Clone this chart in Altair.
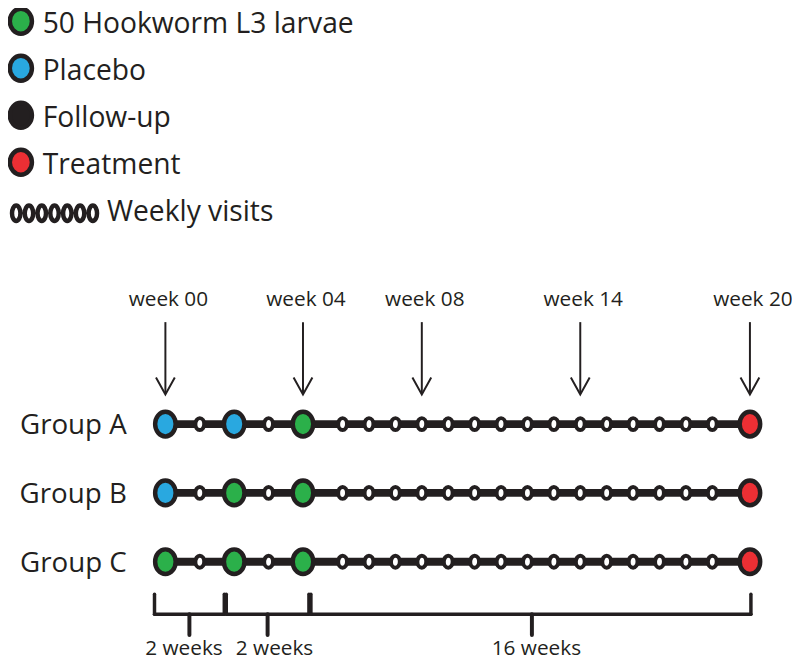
import altair as alt
import pandas as pd

# ---------------- data ----------------
legend_labels = ["50 Hookworm L3 larvae", "Placebo", "Follow-up", "Treatment", "Weekly visits"]
visit_types = ["50 Hookworm L3 larvae", "Placebo", "Follow-up", "Treatment"]
visit_colors = ["#2bb04a", "#29a8e0", "#231f20", "#ec2f34"]

groups = ["Group A", "Group B", "Group C"]
dose_weeks = [0, 2, 4]
group_a_doses = ["Placebo", "Placebo", "50 Hookworm L3 larvae"]
group_b_doses = ["Placebo", "50 Hookworm L3 larvae", "50 Hookworm L3 larvae"]
group_c_doses = ["50 Hookworm L3 larvae", "50 Hookworm L3 larvae", "50 Hookworm L3 larvae"]
weekly_visit_weeks = [1, 3, 5, 6, 7, 8, 9, 10, 11, 12, 13, 14, 15, 16, 17, 18, 19]
treatment_week = 20
study_start_week = 0
study_end_week = 20

arrow_weeks = [0, 4, 8, 14, 20]
arrow_labels = ["week 00", "week 04", "week 08", "week 14", "week 20"]

bracket_start = [0, 2, 4]
bracket_end = [2, 4, 20]
bracket_labels = ["2 weeks", "2 weeks", "16 weeks"]

# ---------------- tables ----------------
group_doses = [group_a_doses, group_b_doses, group_c_doses]
big_rows = []
for g, doses in zip(groups, group_doses):
    for w, t in zip(dose_weeks, doses):
        big_rows.append({"group": g, "week": w, "type": t})
    big_rows.append({"group": g, "week": treatment_week, "type": "Treatment"})
df_big = pd.DataFrame(big_rows)
df_weekly = pd.DataFrame([{"group": g, "week": w} for g in groups for w in weekly_visit_weeks])
df_lines = pd.DataFrame({"group": groups, "start": [study_start_week] * 3, "end": [study_end_week] * 3})
df_arrows = pd.DataFrame({"week": arrow_weeks, "label": arrow_labels})
df_brackets = pd.DataFrame({"idx": [0, 1, 2], "start": bracket_start, "end": bracket_end, "label": bracket_labels})
df_legend = pd.DataFrame({"label": legend_labels})

# ---------------- styles ----------------
INK = "#231f20"
FONT = "Open Sans"
big_shape = "M-1,0A1,1.2 0 1,0 1,0A1,1.2 0 1,0 -1,0Z"
small_shape = "M-1,0A1,1.35 0 1,0 1,0A1,1.35 0 1,0 -1,0Z"
legend_shape = "M-1,0A1,1.13 0 1,0 1,0A1,1.13 0 1,0 -1,0Z"
chain_shape = ""
for i in range(7):
    cx = (i - 3) * 12.9
    chain_shape += f"M{cx - 4.25:.2f},0A4.25,7.75 0 1,0 {cx + 4.25:.2f},0A4.25,7.75 0 1,0 {cx - 4.25:.2f},0Z"
arrow_shape = "M-1,-1.8L0,0L1,-1.8"
# hand-drawn look of the braces: (start nudge, end nudge, label nudge) in px
bracket_nudges = [(-11, -10, -16), (-8, 6, 6), (8, 1, 9)]

color_scale = alt.Scale(domain=visit_types, range=visit_colors)
x_scale = alt.Scale(domain=[0, 4, 5, 19, 20], range=[159, 298, 338, 711.5, 749.5], zero=False, nice=False)
y_group = alt.Y("group:N", scale=alt.Scale(type="point", domain=groups, range=[417, 556], padding=0), axis=None)
y_legend = alt.Y("label:N", scale=alt.Scale(type="point", domain=legend_labels, range=[10, 200], padding=0), axis=None)

# ---------------- legend ----------------
leg_base = alt.Chart(df_legend)
leg_points = leg_base.transform_filter(alt.datum.label != "Weekly visits").mark_point(
    shape=legend_shape, size=500, filled=True, stroke=INK, strokeWidth=4.5, opacity=1
).encode(x=alt.value(13), y=y_legend, fill=alt.Fill("label:N", scale=color_scale, legend=None))
leg_text = leg_base.transform_filter(alt.datum.label != "Weekly visits").mark_text(
    align="left", baseline="alphabetic", dy=12, fontSize=28.5, font=FONT, color=INK
).encode(x=alt.value(35), y=y_legend, text="label:N")
leg_chain = leg_base.transform_filter(alt.datum.label == "Weekly visits").mark_point(
    shape=chain_shape, size=4, filled=True, fill="white", stroke=INK, strokeWidth=4.5, opacity=1, yOffset=4
).encode(x=alt.value(47), y=y_legend)
leg_chain_text = leg_base.transform_filter(alt.datum.label == "Weekly visits").mark_text(
    align="left", baseline="alphabetic", dy=12, fontSize=28.5, font=FONT, color=INK
).encode(x=alt.value(100), y=y_legend, text="label:N")
legend_layer = alt.layer(leg_points, leg_text, leg_chain, leg_chain_text)

# ---------------- timeline ----------------
lines = alt.Chart(df_lines).mark_rule(strokeWidth=8, color=INK).encode(
    x=alt.X("start:Q", scale=x_scale, axis=None), x2="end:Q", y=y_group
)
rings = alt.Chart(df_weekly).mark_point(
    shape=small_shape, size=80, filled=True, fill="white", stroke=INK, strokeWidth=4, opacity=1
).encode(x=alt.X("week:Q", scale=x_scale, axis=None), y=y_group)
bigs = alt.Chart(df_big).mark_point(
    shape=big_shape, size=430, filled=True, stroke=INK, strokeWidth=4.5, opacity=1
).encode(x=alt.X("week:Q", scale=x_scale, axis=None), y=y_group,
         fill=alt.Fill("type:N", scale=color_scale, legend=None))
group_text = alt.Chart(df_lines).mark_text(
    align="right", baseline="alphabetic", dy=10, fontSize=28, font=FONT, color=INK
).encode(x=alt.value(120), y=y_group, text="group:N")

arrow_shaft = alt.Chart(df_arrows).mark_rule(strokeWidth=2, color=INK).encode(
    x=alt.X("week:Q", scale=x_scale, axis=None), y=alt.value(314), y2=alt.value(386)
)
arrow_head = alt.Chart(df_arrows).mark_point(
    shape=arrow_shape, size=361, stroke=INK, strokeWidth=2, opacity=1
).encode(x=alt.X("week:Q", scale=x_scale, axis=None), y=alt.value(387))
arrow_text = alt.Chart(df_arrows).mark_text(
    align="center", baseline="alphabetic", dx=3, fontSize=21, font=FONT, color=INK
).encode(x=alt.X("week:Q", scale=x_scale, axis=None), y=alt.value(298), text="label:N")

bracket_layers = []
for i, (s_off, e_off, t_off) in enumerate(bracket_nudges):
    br = alt.Chart(df_brackets).transform_filter(alt.datum.idx == i).transform_calculate(
        mid="(datum.start + datum.end) / 2"
    )
    c_off = (s_off + e_off) / 2
    bracket_layers += [
        br.mark_rule(strokeWidth=3.5, color=INK, strokeCap="round", xOffset=s_off, x2Offset=e_off).encode(
            x=alt.X("start:Q", scale=x_scale, axis=None), x2="end:Q", y=alt.value(609)
        ),
        br.mark_rule(strokeWidth=3.5, color=INK, strokeCap="round", xOffset=s_off).encode(
            x=alt.X("start:Q", scale=x_scale, axis=None), y=alt.value(589), y2=alt.value(609)
        ),
        br.mark_rule(strokeWidth=3.5, color=INK, strokeCap="round", xOffset=e_off).encode(
            x=alt.X("end:Q", scale=x_scale, axis=None), y=alt.value(589), y2=alt.value(609)
        ),
        br.mark_rule(strokeWidth=4, color=INK, strokeCap="round", xOffset=c_off).encode(
            x=alt.X("mid:Q", scale=x_scale, axis=None), y=alt.value(609), y2=alt.value(630)
        ),
        br.mark_text(align="center", baseline="alphabetic", fontSize=21, font=FONT, color=INK,
                     dx=t_off).encode(
            x=alt.X("mid:Q", scale=x_scale, axis=None), y=alt.value(650), text="label:N"
        ),
    ]

timeline_layer = alt.layer(lines, rings, bigs, group_text, arrow_shaft, arrow_head, arrow_text,
                           *bracket_layers)

chart = alt.layer(legend_layer, timeline_layer).resolve_scale(
    x="independent", y="independent"
).properties(
    width=792, height=653, padding=0, autosize=alt.AutoSizeParams(type="none")
).configure_view(stroke=None)

chart.save("out.html", embed_options={"renderer": "svg", "actions": False})
